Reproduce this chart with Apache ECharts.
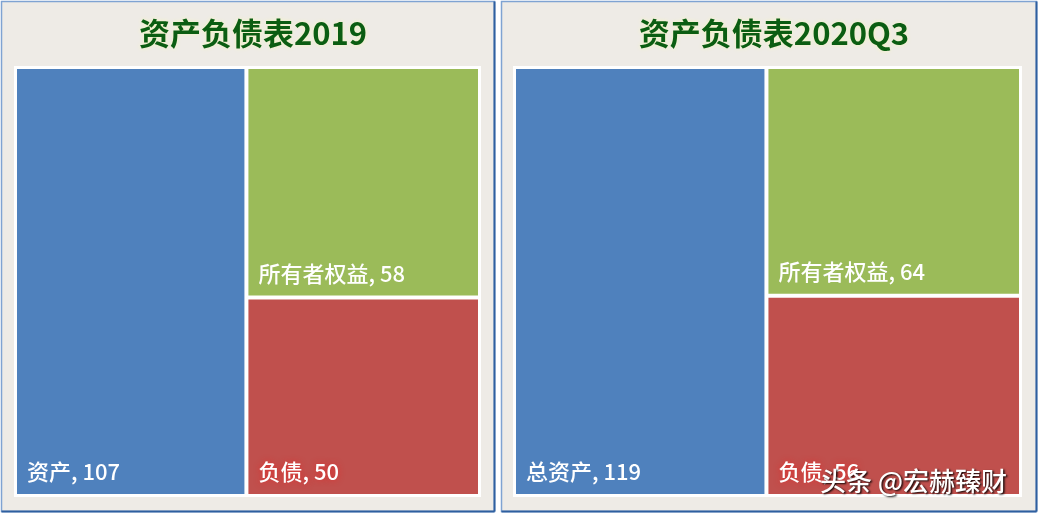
<!DOCTYPE html>
<html>
<head>
<meta charset="utf-8">
<script src="https://cdn.jsdelivr.net/npm/echarts@6/dist/echarts.min.js"></script>
<style>
html,body{margin:0;padding:0;background:#ffffff;}
#c{width:1040px;height:514px;}
</style>
</head>
<body>
<div id="c"></div>
<script>
var titles = ['资产负债表2019', '资产负债表2020Q3'];
var names2019 = ['资产', '所有者权益', '负债'];
var values2019 = [107, 58, 50];
var names2020 = ['总资产', '所有者权益', '负债'];
var values2020 = [119, 64, 56];
var colors = ['#4f81bd', '#9bbb59', '#c0504d'];

var FONT = '"Noto Sans CJK SC", "Noto Sans", sans-serif';

function buildData(names, values) {
  return names.map(function (n, i) {
    var d = { name: n, value: values[i], itemStyle: { color: colors[i] } };
    if (i === 2) {
      d.label = { textShadowColor: 'rgba(230,40,40,0.9)', textShadowBlur: 6 };
    }
    return d;
  });
}

function series(names, values, left, width) {
  return {
    type: 'treemap',
    left: left,
    top: 66,
    width: width,
    height: 431,
    roam: false,
    nodeClick: false,
    breadcrumb: { show: false },
    squareRatio: 1,
    animation: false,
    levels: [
      { itemStyle: { borderColor: '#ffffff', borderWidth: 3, gapWidth: 4 } }
    ],
    itemStyle: { borderWidth: 0 },
    label: {
      show: true,
      position: 'insideBottomLeft',
      distance: 5,
      offset: [0, -1],
      formatter: '{b}, {c}',
      color: '#ffffff',
      fontSize: 22,
      fontWeight: 500,
      fontFamily: FONT
    },
    upperLabel: { show: false },
    emphasis: { disabled: true },
    data: buildData(names, values)
  };
}

var chart = echarts.init(document.getElementById('c'), null, { renderer: 'canvas' });
var panelBg = '#eeebe6';
chart.setOption({
  backgroundColor: '#ffffff',
  animation: false,
  title: [
    {
      text: titles[0], left: 248, top: 13, textAlign: 'center',
      textStyle: { color: '#0b5d12', fontSize: 31, fontWeight: 'bold', fontFamily: FONT,
        textShadowColor: 'rgba(245,245,190,1)', textShadowBlur: 4 }
    },
    {
      text: titles[1], left: 769, top: 13, textAlign: 'center',
      textStyle: { color: '#0b5d12', fontSize: 31, fontWeight: 'bold', fontFamily: FONT,
        textShadowColor: 'rgba(245,245,190,1)', textShadowBlur: 4 }
    }
  ],
  graphic: [
    { type: 'rect', z: -10, shape: { x: 1.5, y: 1.5, width: 493, height: 510 },
      style: { fill: panelBg, stroke: '#7fa3d2', lineWidth: 1.5 } },
    { type: 'line', z: -9, shape: { x1: 494.5, y1: 1.5, x2: 494.5, y2: 511.5 },
      style: { stroke: '#2e5f9f', lineWidth: 2 } },
    { type: 'line', z: -9, shape: { x1: 1.5, y1: 511.5, x2: 494.5, y2: 511.5 },
      style: { stroke: '#2e5f9f', lineWidth: 2 } },
    { type: 'rect', z: -10, shape: { x: 501.5, y: 1.5, width: 535, height: 510 },
      style: { fill: panelBg, stroke: '#7fa3d2', lineWidth: 1.5 } },
    { type: 'line', z: -9, shape: { x1: 1036.5, y1: 1.5, x2: 1036.5, y2: 511.5 },
      style: { stroke: '#2e5f9f', lineWidth: 2 } },
    { type: 'line', z: -9, shape: { x1: 501.5, y1: 511.5, x2: 1036.5, y2: 511.5 },
      style: { stroke: '#2e5f9f', lineWidth: 2 } },
    { type: 'text', z: 100, left: 820, top: 468,
      style: { text: '头条 @宏赫臻财', fill: '#ffffff', fontSize: 26, fontWeight: 500, fontFamily: FONT,
        textShadowColor: 'rgba(0,0,0,0.9)', textShadowBlur: 2, textShadowOffsetX: 1.5, textShadowOffsetY: 1.5 } }
  ],
  series: [
    series(names2019, values2019, 14, 467),
    series(names2020, values2020, 513, 509)
  ]
});
</script>
</body>
</html>
